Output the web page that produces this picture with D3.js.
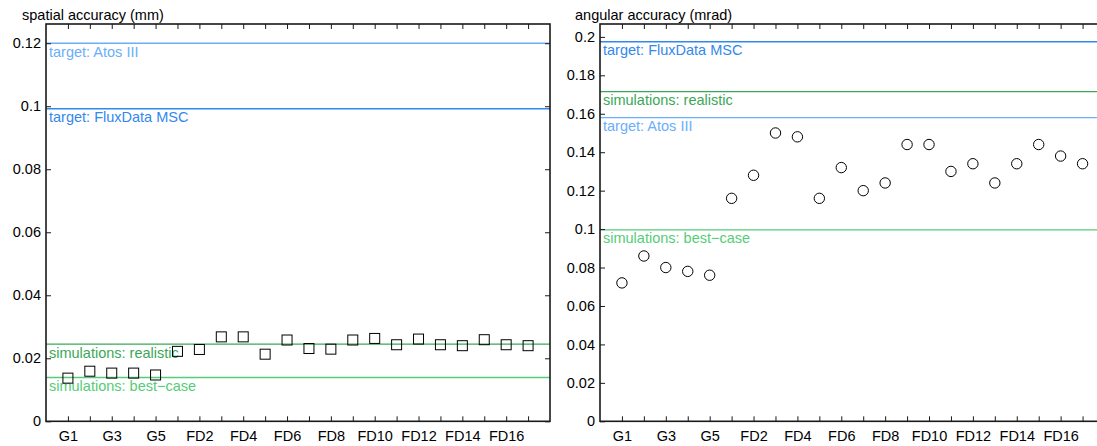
<!DOCTYPE html>
<html>
<head>
<meta charset="utf-8">
<script src="https://cdn.jsdelivr.net/npm/d3@7"></script>
<style>
  html, body { margin: 0; padding: 0; background: #fff; }
  svg { display: block; font-family: "Liberation Sans", Arial, Helvetica, sans-serif; }
</style>
</head>
<body>
<svg id="chart" width="1097" height="446"></svg>
<script>
// ---- data ----
const categories = ["G1","G2","G3","G4","G5","FD1","FD2","FD3","FD4","FD5","FD6","FD7","FD8","FD9","FD10","FD11","FD12","FD13","FD14","FD15","FD16","FD17"];
const xTickLabels = ["G1","G3","G5","FD2","FD4","FD6","FD8","FD10","FD12","FD14","FD16"];

const spatialValues = [0.0137, 0.0159, 0.0153, 0.0153, 0.0147, 0.0222, 0.0228, 0.0268, 0.0268, 0.0213, 0.0258, 0.0231, 0.0229, 0.0258, 0.0263, 0.0243, 0.0261, 0.0243, 0.0240, 0.0259, 0.0243, 0.0240];
const angularValues = [0.072, 0.086, 0.080, 0.078, 0.076, 0.116, 0.128, 0.150, 0.148, 0.116, 0.132, 0.120, 0.124, 0.144, 0.144, 0.130, 0.134, 0.124, 0.134, 0.144, 0.138, 0.134];

const refNames = ["target: Atos III", "target: FluxData MSC", "simulations: realistic", "simulations: best\u2212case"];
const spatialRefValues = [0.120, 0.0992, 0.0245, 0.0139];
const angularRefValues = [0.158, 0.1975, 0.1715, 0.0996];

const spatialYTicks = [0, 0.02, 0.04, 0.06, 0.08, 0.1, 0.12];
const angularYTicks = [0, 0.02, 0.04, 0.06, 0.08, 0.1, 0.12, 0.14, 0.16, 0.18, 0.2];

const spatialTitle = "spatial accuracy (mm)";
const angularTitle = "angular accuracy (mrad)";

// ---- styling ----
const refColors = ["#6aaefc", "#3388ee", "#3aa857", "#55cc77"];
const axisColor = "#1a1a1a";
const fontSize = 14.5;

const svg = d3.select("#chart");

function panel(opts) {
  const { x0, x1, y0, y1, yMax, values, refs, yTicks, title, titleX, marker } = opts;
  const g = svg.append("g");
  const x = d3.scaleLinear().domain([0, categories.length + 1]).range([x0, x1]);
  const y = d3.scaleLinear().domain([0, yMax]).range([y1, y0]);
  const fmt = d3.format("~g");

  // reference lines + labels
  refs.forEach((v, i) => {
    g.append("line")
      .attr("x1", x0).attr("x2", x1)
      .attr("y1", y(v)).attr("y2", y(v))
      .attr("stroke", refColors[i]).attr("stroke-width", 1.4);
    g.append("text")
      .attr("x", x0 + 3).attr("y", y(v) + 13.5)
      .attr("font-size", fontSize)
      .attr("fill", refColors[i])
      .text(refNames[i]);
  });

  // axes (inward ticks)
  const idx = categories.map((c, i) => i + 1);
  const bottom = d3.axisBottom(x).tickValues(idx).tickSize(-5).tickPadding(9.5)
    .tickFormat(d => xTickLabels.includes(categories[d - 1]) ? categories[d - 1] : "");
  const top = d3.axisTop(x).tickValues(idx).tickSize(-5).tickFormat("");
  const left = d3.axisLeft(y).tickValues(yTicks).tickSize(-5).tickPadding(5).tickFormat(fmt);
  const right = d3.axisRight(y).tickValues(yTicks).tickSize(-5).tickFormat("");

  const styleAxis = sel => {
    sel.select(".domain").remove();
    sel.selectAll("line").attr("stroke", axisColor).attr("stroke-width", 1);
    sel.selectAll("text").attr("font-size", fontSize).attr("fill", "#000")
      .attr("font-family", "\"Liberation Sans\", Arial, Helvetica, sans-serif");
  };
  g.append("g").attr("transform", `translate(0,${y1})`).call(bottom).call(styleAxis);
  g.append("g").attr("transform", `translate(0,${y0})`).call(top).call(styleAxis);
  g.append("g").attr("transform", `translate(${x0},0)`).call(left).call(styleAxis);
  g.append("g").attr("transform", `translate(${x1},0)`).call(right).call(styleAxis);

  // box
  g.append("rect")
    .attr("x", x0).attr("y", y0)
    .attr("width", x1 - x0).attr("height", y1 - y0)
    .attr("fill", "none").attr("stroke", axisColor).attr("stroke-width", 1.6);

  // markers
  if (marker === "square") {
    g.selectAll("rect.pt").data(values).enter().append("rect")
      .attr("class", "pt")
      .attr("x", (d, i) => x(i + 1) - 5).attr("y", d => y(d) - 5)
      .attr("width", 10).attr("height", 10)
      .attr("fill", "none").attr("stroke", "#000").attr("stroke-width", 1);
  } else {
    g.selectAll("circle.pt").data(values).enter().append("circle")
      .attr("class", "pt")
      .attr("cx", (d, i) => x(i + 1)).attr("cy", d => y(d))
      .attr("r", 5.2)
      .attr("fill", "none").attr("stroke", "#000").attr("stroke-width", 1);
  }

  // title
  svg.append("text")
    .attr("x", titleX).attr("y", 19.5)
    .attr("font-size", fontSize).attr("fill", "#000")
    .text(title);
}

panel({ x0: 46, x1: 550, y0: 24, y1: 421.3, yMax: 0.1261,
        values: spatialValues, refs: spatialRefValues, yTicks: spatialYTicks,
        title: spatialTitle, titleX: 22, marker: "square" });
panel({ x0: 600, x1: 1104.5, y0: 24, y1: 421.3, yMax: 0.2067,
        values: angularValues, refs: angularRefValues, yTicks: angularYTicks,
        title: angularTitle, titleX: 575, marker: "circle" });
</script>
</body>
</html>
